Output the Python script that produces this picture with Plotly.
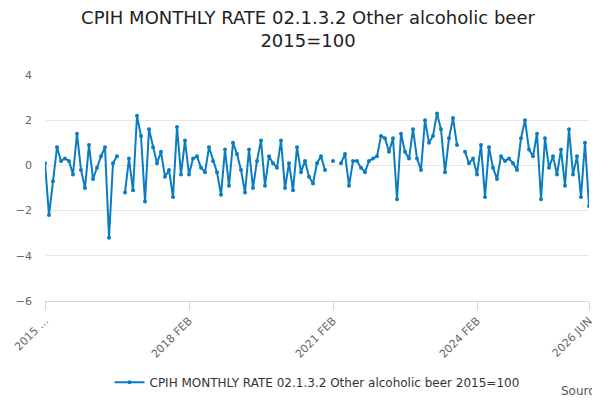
import plotly.graph_objects as go

months = ["JAN","FEB","MAR","APR","MAY","JUN","JUL","AUG","SEP","OCT","NOV","DEC"]
categories = [f"{2015 + (1 + i)//12} {months[(1 + i) % 12]}" for i in range(137)]
values = [0.1,-2.2,-0.7,0.8,0.2,0.3,0.2,-0.4,1.4,-0.2,-1.0,0.9,-0.6,-0.1,0.4,0.8,-3.2,0.1,0.4,None,
          -1.2,0.3,-1.1,2.2,1.3,-1.6,1.6,0.8,0.1,0.6,-0.5,-0.2,-1.4,1.7,-0.4,1.1,-0.4,0.3,0.4,-0.1,
          -0.3,0.8,0.2,-0.3,-1.3,0.7,-0.9,1.0,0.5,-0.2,-1.2,0.7,-1.0,0.2,1.1,-0.9,0.4,0.1,-0.1,1.1,
          -1.0,0.1,-1.1,0.8,-0.3,0.2,-0.5,-0.8,0.1,0.4,-0.2,None,0.2,None,0.1,0.5,-0.9,0.2,0.2,-0.1,
          -0.3,0.2,0.3,0.4,1.3,1.2,0.6,1.2,-1.5,1.4,0.6,0.3,1.6,0.3,-0.2,2.0,1.0,1.3,2.3,1.6,
          -0.3,1.2,2.1,0.9,None,0.6,0.1,0.3,-0.4,0.9,-1.4,0.8,-0.1,-0.6,0.4,0.2,0.3,0.1,-0.2,1.2,
          2.0,0.7,0.4,1.4,-1.5,1.2,-0.1,0.4,-0.4,0.7,-0.9,1.6,-0.4,0.4,-1.4,1.0,-1.8]
tick_idx = [0, 36, 72, 108, 136]
tick_labels = ["2015 ...", "2018 FEB", "2021 FEB", "2024 FEB", "2026 JUN"]

name = "CPIH MONTHLY RATE 02.1.3.2 Other alcoholic beer 2015=100"
fig = go.Figure(go.Scatter(
    x=list(range(len(values))), y=values, mode="lines+markers", name=name,
    line=dict(color="#0a7cc1", width=2), marker=dict(size=4, color="#0a7cc1"),
    text=categories, hovertemplate="%{text}: %{y}<extra></extra>"))
fig.update_layout(
    width=600, height=400, paper_bgcolor="white", plot_bgcolor="white",
    font=dict(family="DejaVu Sans", color="#333"),
    title=dict(text="CPIH MONTHLY RATE 02.1.3.2 Other alcoholic beer<br>2015=100",
               x=0.5, xanchor="center", y=0.96, font=dict(size=18, color="#222")),
    margin=dict(l=37, r=19, t=67, b=106),
    showlegend=True,
    legend=dict(orientation="h", x=0.5, xanchor="center", y=-0.29, yanchor="top",
                font=dict(size=12, color="#333")),
    annotations=[dict(text="Source:", xref="paper", yref="paper", x=1.035, y=-0.36,
                      xanchor="right", yanchor="top", showarrow=False,
                      font=dict(size=12, color="#555"))],
)
fig.update_xaxes(range=[0, 136], tickvals=tick_idx, ticktext=tick_labels, tickangle=-45,
                 showgrid=False, showline=True, linecolor="#ccd6eb", ticks="outside",
                 tickcolor="#ccd6eb", ticklen=8, tickfont=dict(size=11, color="#666"),
                 automargin=False)
fig.update_yaxes(range=[-6, 4], dtick=2, gridcolor="#e6e6e6", zeroline=False,
                 tickfont=dict(size=11, color="#666"), ticklabelstandoff=12,
                 automargin=False)
fig.write_html("out.html")
